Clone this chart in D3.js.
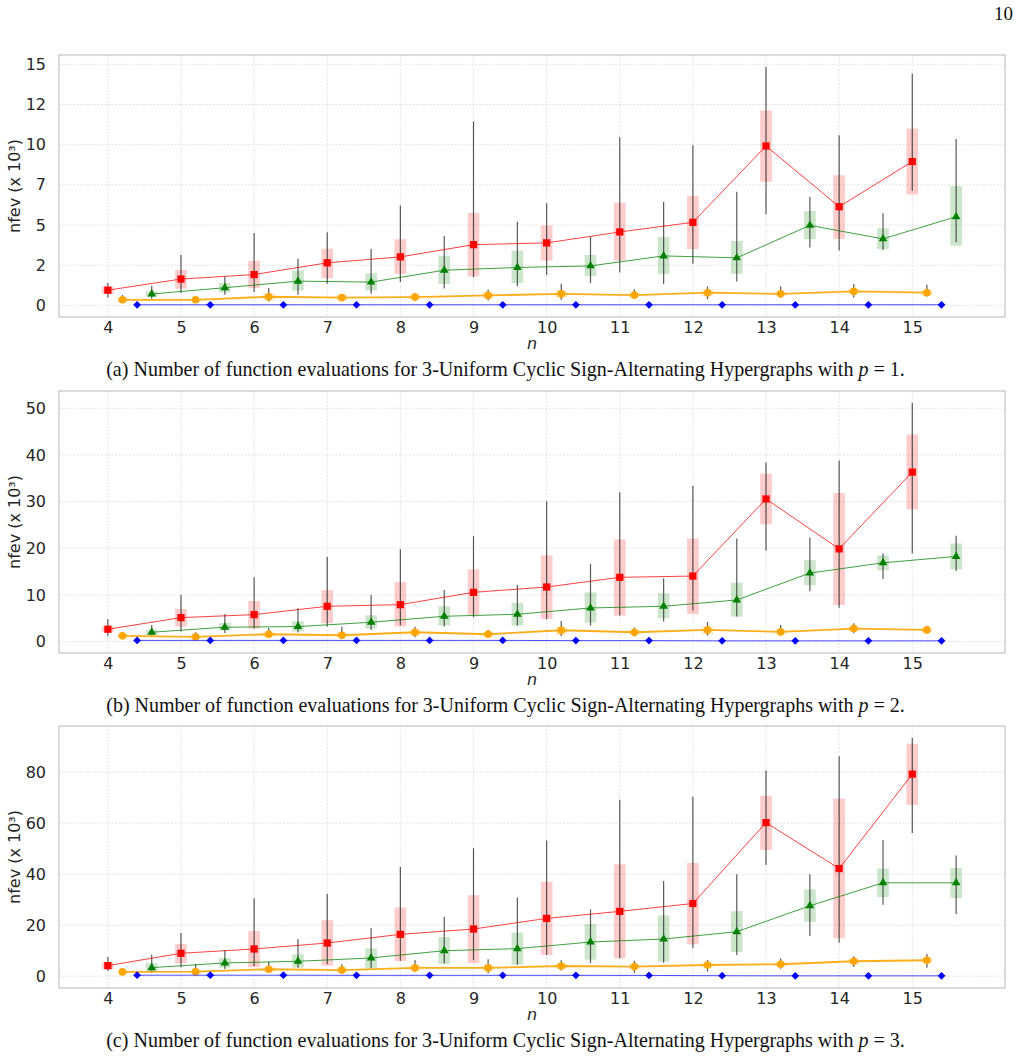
<!DOCTYPE html>
<html>
<head>
<meta charset="utf-8">
<script src="https://cdn.jsdelivr.net/npm/d3@7"></script>
<style>
  body { margin: 0; background: #fff; }
  svg { display: block; }
  .tick text { font-family: "DejaVu Sans", sans-serif; fill: #262626; }
  .caption { font-family: "Liberation Serif", serif; fill: #111; }
</style>
</head>
<body>
<script>
// n values on the x axis
var nValues = [4, 5, 6, 7, 8, 9, 10, 11, 12, 13, 14, 15];

// each entry: [whisker low, box low, marker, box high, whisker high]  (x 10^3)
// (a) p = 1
var redA = [[0.5,0.71,0.95,1.18,1.39],[0.77,1.04,1.64,2.21,3.14],[0.83,1.08,1.92,2.77,4.5],[1.36,1.7,2.65,3.53,4.55],
  [1.45,1.95,3.02,4.12,6.22],[1.75,1.8,3.78,5.75,11.45],[1.9,2.79,3.89,4.98,6.35],[2.07,2.79,4.57,6.39,10.46],
  [2.6,3.5,5.17,6.82,9.96],[5.67,7.69,9.92,12.13,14.84],[3.41,4.14,6.14,8.1,10.58],[7.13,6.9,8.95,11.0,14.41]];
var orangeA = [[0.19,0.21,0.35,0.52,0.66],[0.2,0.25,0.35,0.45,0.5],[0.25,0.29,0.54,0.77,1.08],[0.3,0.33,0.48,0.64,0.7],
  [0.35,0.38,0.52,0.68,0.77],[0.31,0.42,0.62,0.82,0.98],[0.35,0.46,0.72,0.97,1.35],[0.41,0.5,0.64,0.78,1.0],
  [0.39,0.56,0.79,1.01,1.17],[0.5,0.6,0.72,0.87,1.18],[0.5,0.71,0.87,1.03,1.33],[0.56,0.6,0.79,0.97,1.28]];
var blueA = [[0.02,0.03,0.04,0.05,0.06],[0.02,0.03,0.04,0.05,0.06],[0.02,0.03,0.04,0.05,0.06],[0.02,0.03,0.04,0.05,0.06],
  [0.02,0.03,0.04,0.05,0.06],[0.02,0.03,0.04,0.05,0.06],[0.02,0.03,0.04,0.05,0.06],[0.02,0.03,0.04,0.05,0.06],
  [0.02,0.03,0.04,0.05,0.06],[0.02,0.03,0.04,0.05,0.06],[0.02,0.03,0.04,0.05,0.06],[0.02,0.03,0.04,0.05,0.06]];
var greenA = [[0.42,0.52,0.71,0.89,1.22],[0.66,0.81,1.1,1.41,1.8],[0.66,0.93,1.51,2.17,2.9],[0.72,0.93,1.45,2.0,3.51],
  [1.05,1.33,2.19,3.08,4.32],[1.2,1.39,2.36,3.41,5.21],[1.39,1.82,2.46,3.14,4.28],[1.33,1.95,3.08,4.26,6.45],
  [1.49,1.97,2.96,4.01,7.07],[3.6,4.12,4.98,5.87,6.76],[3.45,3.5,4.14,4.8,5.73],[3.93,3.72,5.52,7.42,10.35]];

// (b) p = 2
var redB = [[1.22,2.0,2.65,3.29,4.85],[2.14,3.21,5.13,6.99,9.98],[2.78,2.78,5.77,8.7,13.76],[3.21,3.93,7.56,11.05,18.16],
  [3.5,3.21,7.91,12.76,19.8],[5.2,5.7,10.55,15.47,22.58],[4.78,4.85,11.69,18.5,30.06],[5.56,5.56,13.76,21.88,31.99],
  [6.63,5.92,14.04,22.09,33.42],[19.45,25.15,30.56,35.98,38.4],[7.27,7.84,19.87,31.84,38.83],[18.89,28.29,36.32,44.38,51.15]];
var orangeB = [[0.8,0.85,1.22,1.65,1.93],[0.4,0.64,1.0,1.43,2.0],[0.8,0.93,1.57,2.14,2.93],[0.57,0.93,1.35,1.93,3.2],
  [0.9,1.22,2.0,2.5,3.2],[1.0,1.07,1.57,2.0,2.5],[1.2,1.36,2.42,3.2,4.4],[1.07,1.5,2.0,2.43,3.0],
  [1.3,1.5,2.5,3.2,4.2],[1.36,1.57,2.07,2.64,3.57],[1.8,2.14,2.79,3.29,3.93],[1.8,1.93,2.5,2.93,3.35]];
var blueB = [[0.15,0.2,0.25,0.3,0.35],[0.15,0.2,0.25,0.3,0.35],[0.15,0.2,0.25,0.3,0.35],[0.15,0.2,0.25,0.3,0.35],
  [0.15,0.2,0.25,0.3,0.35],[0.15,0.2,0.25,0.3,0.35],[0.12,0.16,0.2,0.24,0.28],[0.12,0.16,0.2,0.24,0.28],
  [0.1,0.12,0.15,0.18,0.2],[0.1,0.12,0.15,0.18,0.2],[0.1,0.12,0.15,0.18,0.2],[0.1,0.12,0.15,0.18,0.2]];
var greenB = [[1.22,1.43,2.0,2.5,3.57],[1.86,2.36,3.07,4.0,5.92],[1.93,2.14,3.21,4.36,7.14],[2.5,2.78,4.14,5.64,9.98],
  [3.21,3.42,5.42,7.56,11.05],[3.42,3.42,5.85,8.33,12.1],[3.42,4.07,7.2,10.56,16.6],[4.28,5.0,7.56,10.34,13.55],
  [5.35,5.35,8.91,12.6,22.09],[10.77,12.06,14.68,17.46,22.3],[13.4,15.26,16.88,18.46,18.95],[15.1,15.47,18.25,21.03,22.7]];

// (c) p = 3
var redC = [[2.07,2.74,4.15,5.47,7.54],[3.52,5.08,8.99,12.63,16.93],[4.03,3.52,10.67,17.7,30.6],[4.8,4.15,13.02,22.0,32.3],
  [6.1,5.98,16.4,26.97,42.85],[6.37,5.08,18.5,31.78,50.15],[8.33,8.33,22.67,36.98,53.17],[7.04,7.04,25.41,43.9,69.2],
  [10.95,12.5,28.5,44.4,70.37],[43.6,49.5,60.2,70.76,80.65],[13.1,14.86,42.2,69.6,86.25],[56.1,67.2,79.2,91.1,93.4]];
var orangeC = [[1.0,1.17,1.68,2.07,2.3],[0.5,0.9,1.8,2.46,4.8],[1.4,1.68,2.74,3.52,5.7],[1.17,1.4,2.4,3.36,4.7],
  [1.8,2.35,3.25,4.15,6.37],[1.17,1.95,3.25,4.54,6.64],[2.2,2.97,4.0,5.08,6.25],[1.4,2.85,3.77,4.7,6.1],
  [1.8,3.36,4.4,5.47,6.37],[2.97,3.75,4.7,5.47,6.9],[3.64,4.7,5.86,6.9,7.8],[3.36,5.08,6.25,7.43,8.72]];
var blueC = [[0.2,0.3,0.4,0.5,0.6],[0.2,0.3,0.4,0.5,0.6],[0.2,0.3,0.4,0.5,0.6],[0.2,0.28,0.35,0.42,0.5],
  [0.2,0.28,0.35,0.42,0.5],[0.2,0.28,0.35,0.42,0.5],[0.2,0.28,0.35,0.42,0.5],[0.15,0.22,0.3,0.38,0.45],
  [0.1,0.15,0.2,0.25,0.3],[0.05,0.1,0.15,0.2,0.25],[0.05,0.1,0.15,0.2,0.25],[0.05,0.1,0.15,0.2,0.25]];
var greenC = [[1.4,1.8,3.36,5.08,8.44],[2.85,3.36,5.2,7.15,10.28],[3.36,3.36,5.86,8.6,14.58],[3.1,3.1,7.15,10.9,18.76],
  [5.08,4.8,10.0,15.36,23.3],[4.54,4.54,10.8,17.05,30.9],[5.08,6.5,13.4,20.45,26.2],[5.3,5.7,14.58,23.85,37.3],
  [8.33,9.5,17.45,25.5,40.0],[15.75,21.35,27.6,34.0,40.0],[28.0,31.0,36.6,42.2,53.3],[24.35,30.6,36.6,42.45,47.3]];

// y ticks and their labels
var ticksA = [0, 2.5, 5, 7.5, 10, 12.5, 15], tickLabelsA = ["0", "2", "5", "7", "10", "12", "15"];
var ticksB = [0, 10, 20, 30, 40, 50], tickLabelsB = ["0", "10", "20", "30", "40", "50"];
var ticksC = [0, 20, 40, 60, 80], tickLabelsC = ["0", "20", "40", "60", "80"];

var captionPrefix = ["(a)", "(b)", "(c)"];
var pValues = [1, 2, 3];

var width = 1020, height = 1059;
var plot = {left: 59, right: 1005, height: 262, tops: [55, 391, 726]};
var boxHalf = 0.08;

var panels = [
  {series: [redA, orangeA, blueA, greenA], ticks: ticksA, labels: tickLabelsA},
  {series: [redB, orangeB, blueB, greenB], ticks: ticksB, labels: tickLabelsB},
  {series: [redC, orangeC, blueC, greenC], ticks: ticksC, labels: tickLabelsC}
];

var styles = [
  {color: "#ff0000", offset: 0.0, lineWidth: 1, lineOpacity: 0.75, symbol: d3.symbolSquare, size: 52, rotate: 0},
  {color: "#ffa500", offset: 0.2, lineWidth: 1.8, lineOpacity: 0.9, symbol: d3.symbolCircle, size: 46, rotate: 0},
  {color: "#0000ff", offset: 0.4, lineWidth: 1, lineOpacity: 0.7, symbol: d3.symbolSquare, size: 30, rotate: 45},
  {color: "#008000", offset: 0.6, lineWidth: 1, lineOpacity: 0.75, symbol: d3.symbolTriangle, size: 32, rotate: 0}
];

var svg = d3.select("body").append("svg")
    .attr("width", width)
    .attr("height", height);

// page number
svg.append("text")
    .attr("class", "caption")
    .attr("x", 1013).attr("y", 20)
    .attr("text-anchor", "end")
    .style("font-size", "19px")
    .text("10");

// x scale shared by all panels (data range padded by 5% like matplotlib)
var xMin = nValues[0] - boxHalf, xMax = nValues[nValues.length - 1] + 0.6 + boxHalf,
    xPad = (xMax - xMin) * 0.05;
var x = d3.scaleLinear().domain([xMin - xPad, xMax + xPad]).range([plot.left, plot.right]);

panels.forEach(function(panel, pi) {
  var top = plot.tops[pi], bottom = top + plot.height;
  var all = d3.merge(panel.series.map(s => d3.merge(s)));
  var yMin = d3.min(all), yMax = d3.max(all), yPad = (yMax - yMin) * 0.05;
  var y = d3.scaleLinear().domain([yMin - yPad, yMax + yPad]).range([bottom, top]);

  var g = svg.append("g").attr("class", "panel");

  // grid
  g.append("g").selectAll("line").data(nValues).enter().append("line")
      .attr("x1", d => x(d)).attr("x2", d => x(d))
      .attr("y1", top).attr("y2", bottom)
      .attr("stroke", "#dcdcdc").attr("stroke-width", 0.8).attr("stroke-dasharray", "2,1.5");
  g.append("g").selectAll("line").data(panel.ticks).enter().append("line")
      .attr("x1", plot.left).attr("x2", plot.right)
      .attr("y1", d => y(d)).attr("y2", d => y(d))
      .attr("stroke", "#dcdcdc").attr("stroke-width", 0.8).attr("stroke-dasharray", "2,1.5");

  // frame
  g.append("rect")
      .attr("x", plot.left).attr("y", top)
      .attr("width", plot.right - plot.left).attr("height", plot.height)
      .attr("fill", "none").attr("stroke", "#c8c8c8").attr("stroke-width", 1.3);

  // axes
  var gx = g.append("g")
      .attr("transform", `translate(0,${bottom})`)
      .call(d3.axisBottom(x).tickValues(nValues).tickSize(0).tickPadding(5).tickFormat(d3.format("d")));
  var gy = g.append("g")
      .attr("transform", `translate(${plot.left},0)`)
      .call(d3.axisLeft(y).tickValues(panel.ticks).tickSize(0).tickPadding(13)
        .tickFormat((d, i) => panel.labels[i]));
  [gx, gy].forEach(function(a) {
    a.select(".domain").remove();
    a.selectAll(".tick text").style("font-size", "16px");
  });

  // axis labels
  g.append("text")
      .attr("transform", `translate(20,${(top + bottom) / 2}) rotate(-90)`)
      .attr("text-anchor", "middle")
      .style("font-family", "DejaVu Sans").style("font-size", "16px").attr("fill", "#262626")
      .text("nfev (x 10³)");
  g.append("text")
      .attr("x", (plot.left + plot.right) / 2).attr("y", bottom + 32)
      .attr("text-anchor", "middle")
      .style("font-family", "DejaVu Sans").style("font-size", "16px").style("font-style", "italic")
      .attr("fill", "#262626")
      .text("n");

  // boxes
  panel.series.forEach(function(s, si) {
    var st = styles[si];
    g.append("g").selectAll("rect").data(s).enter().append("rect")
        .attr("x", (d, i) => x(nValues[i] + st.offset - boxHalf))
        .attr("width", x(2 * boxHalf) - x(0))
        .attr("y", d => y(d[3]))
        .attr("height", d => Math.max(0, y(d[1]) - y(d[3])))
        .attr("fill", st.color).attr("fill-opacity", 0.2);
  });
  // whiskers
  panel.series.forEach(function(s, si) {
    var st = styles[si];
    g.append("g").selectAll("line").data(s).enter().append("line")
        .attr("x1", (d, i) => x(nValues[i] + st.offset))
        .attr("x2", (d, i) => x(nValues[i] + st.offset))
        .attr("y1", d => y(d[0])).attr("y2", d => y(d[4]))
        .attr("stroke", "#222").attr("stroke-opacity", 0.75).attr("stroke-width", 1.2);
  });
  // lines and markers
  panel.series.forEach(function(s, si) {
    var st = styles[si];
    var line = d3.line()
        .x((d, i) => x(nValues[i] + st.offset))
        .y(d => y(d[2]));
    g.append("path")
        .datum(s)
        .attr("d", line)
        .attr("fill", "none")
        .attr("stroke", st.color).attr("stroke-opacity", st.lineOpacity)
        .attr("stroke-width", st.lineWidth);
    g.append("g").selectAll("path").data(s).enter().append("path")
        .attr("d", d3.symbol().type(st.symbol).size(st.size))
        .attr("transform", (d, i) => `translate(${x(nValues[i] + st.offset)},${y(d[2])}) rotate(${st.rotate})`)
        .attr("fill", st.color);
  });

  // caption
  var cap = svg.append("text")
      .attr("class", "caption")
      .attr("x", 505.5).attr("y", bottom + 59)
      .attr("text-anchor", "middle")
      .style("font-size", "18px");
  cap.append("tspan").text(captionPrefix[pi] + " Number of function evaluations for 3-Uniform Cyclic Sign-Alternating Hypergraphs with ");
  cap.append("tspan").style("font-style", "italic").text("p");
  cap.append("tspan").text(" = " + pValues[pi] + ".");
  // fit caption width to the printed one
  var w = cap.node().getComputedTextLength();
  cap.style("font-size", (18 * 799 / w).toFixed(2) + "px");
});
</script>
</body>
</html>
